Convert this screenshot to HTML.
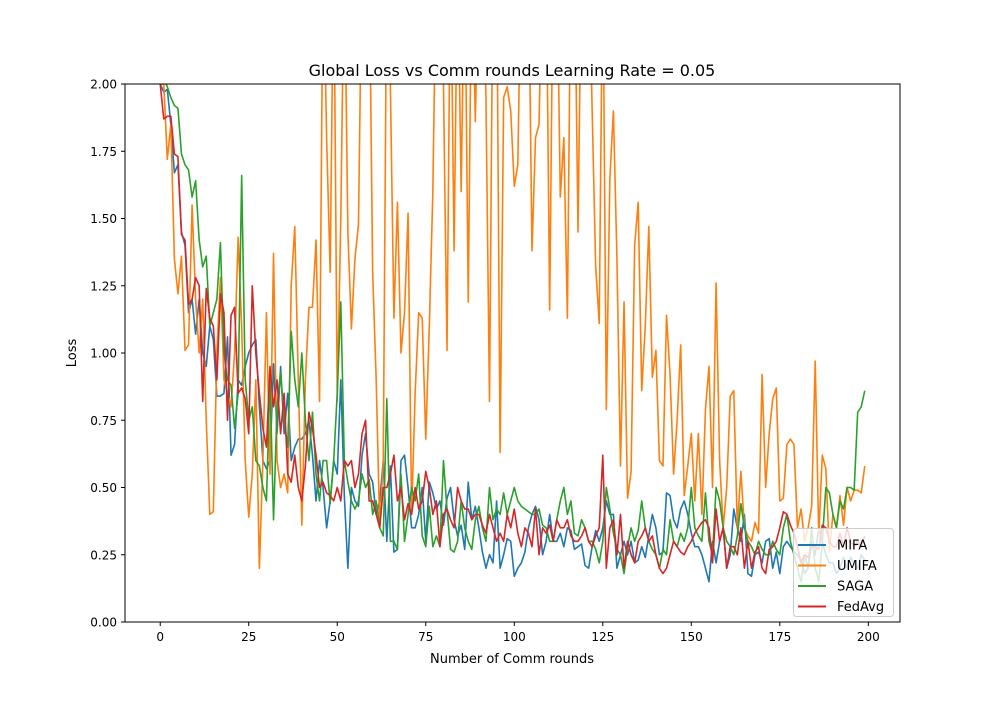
<!DOCTYPE html>
<html><head><meta charset="utf-8"><style>
body{margin:0;background:#fff;font-family:"Liberation Sans","DejaVu Sans",sans-serif}
svg text{font-family:"DejaVu Sans","Liberation Sans",sans-serif}
</style></head><body>
<svg id="chart" width="1000" height="700">
<rect width="1000" height="700" fill="#fff"/>
<defs><clipPath id="clip"><rect x="125" y="84" width="775" height="538"/></clipPath></defs>
<g id="grid"></g>
<g id="series" clip-path="url(#clip)"></g>
<rect x="125" y="84" width="775" height="538" fill="none" stroke="#000" stroke-width="1"/>
<g id="axes"></g>
<text x="512" y="76" text-anchor="middle" font-size="16">Global Loss vs Comm rounds Learning Rate = 0.05</text>
<text x="512" y="663" text-anchor="middle" font-size="13">Number of Comm rounds</text>
<text x="76" y="353" text-anchor="middle" font-size="13" transform="rotate(-90 76 353)">Loss</text>
<g id="legend"></g>
</svg>
<script>
const seriesNames=["MIFA","UMIFA","SAGA","FedAvg"];
const colors=["#1f77b4","#ff7f0e","#2ca02c","#d62728"];
const xTicks=[0,25,50,75,100,125,150,175,200];
const yTicks=[0,0.25,0.5,0.75,1.0,1.25,1.5,1.75,2.0];
const mifa=[2.0,1.97,1.98,1.85,1.67,1.7,1.45,1.4,1.15,1.2,1.07,1.2,1.0,0.95,1.1,1.05,0.84,0.84,0.85,1.06,0.62,0.66,0.9,0.88,0.95,1.0,1.03,1.05,0.8,0.6,0.57,0.6,0.96,0.7,0.95,0.7,0.85,0.6,0.65,0.68,0.68,0.7,0.75,0.62,0.45,0.6,0.5,0.35,0.45,0.6,0.55,0.9,0.47,0.2,0.5,0.45,0.43,0.62,0.7,0.55,0.52,0.4,0.45,0.6,0.3,0.58,0.26,0.27,0.6,0.62,0.5,0.35,0.35,0.4,0.5,0.3,0.52,0.48,0.42,0.45,0.36,0.46,0.5,0.38,0.32,0.36,0.27,0.52,0.38,0.43,0.35,0.26,0.2,0.25,0.22,0.45,0.2,0.25,0.31,0.3,0.17,0.2,0.22,0.26,0.35,0.4,0.43,0.38,0.25,0.3,0.4,0.3,0.3,0.33,0.28,0.35,0.34,0.27,0.28,0.29,0.21,0.2,0.28,0.34,0.3,0.35,0.45,0.4,0.4,0.2,0.25,0.3,0.25,0.3,0.22,0.23,0.28,0.24,0.32,0.4,0.35,0.25,0.26,0.48,0.47,0.38,0.35,0.42,0.45,0.4,0.33,0.28,0.28,0.25,0.2,0.15,0.3,0.22,0.3,0.35,0.2,0.25,0.42,0.35,0.3,0.4,0.18,0.17,0.25,0.26,0.22,0.3,0.31,0.2,0.26,0.18,0.28,0.3,0.28,0.26,0.25,0.23,0.18,0.2,0.3,0.25,0.35,0.3,0.25,0.22,0.22,0.18,0.2,0.24,0.2,0.24,0.22,0.2,0.25,0.23];
const umifa=[2.0,2.0,1.72,1.85,1.35,1.22,1.36,1.01,1.03,1.55,1.2,1.0,1.2,0.75,0.4,0.41,1.0,1.28,0.9,0.85,0.8,1.0,1.43,1.1,0.6,0.39,0.55,0.9,0.2,0.6,1.15,0.55,1.37,0.6,0.5,0.55,0.48,1.25,1.47,0.9,0.36,0.9,1.17,1.17,1.42,0.82,2.5,1.8,1.3,2.5,0.82,1.5,2.5,1.45,1.09,1.35,1.48,2.5,2.5,2.5,1.3,0.9,0.35,0.6,2.5,2.0,1.13,1.56,1.0,1.15,1.52,0.4,0.85,1.15,1.13,0.68,1.1,1.6,2.5,2.5,2.0,1.01,2.5,1.38,2.5,1.6,2.5,1.19,2.5,1.86,2.5,2.5,1.95,0.82,2.5,2.5,0.63,1.95,1.99,1.9,1.62,1.7,2.5,2.5,2.5,1.38,1.8,1.85,2.5,2.5,1.16,2.5,2.5,1.58,1.8,1.13,2.5,2.5,1.45,2.5,2.0,2.5,1.9,1.32,1.11,2.5,0.79,1.65,1.9,1.35,0.58,1.19,0.46,0.56,1.4,1.56,0.86,1.1,1.47,0.91,1.01,0.6,0.58,1.14,0.92,0.55,0.75,1.03,0.47,0.58,0.7,0.45,0.7,0.4,0.79,0.95,0.5,1.26,0.6,0.35,0.5,0.84,0.86,0.35,0.56,0.35,0.32,0.3,0.37,0.33,0.92,0.5,0.7,0.83,0.87,0.45,0.46,0.66,0.68,0.66,0.35,0.42,0.3,0.35,0.43,0.97,0.32,0.62,0.57,0.26,0.4,0.35,0.47,0.36,0.5,0.45,0.49,0.49,0.48,0.58];
const saga=[2.05,2.02,1.99,1.95,1.92,1.91,1.74,1.7,1.68,1.58,1.64,1.42,1.32,1.36,1.1,1.15,1.2,1.41,1.0,0.9,0.88,0.72,0.85,1.66,0.9,0.75,0.8,0.6,0.58,0.5,0.45,0.9,0.38,0.8,0.93,0.75,0.65,1.08,0.9,0.8,1.0,0.75,0.6,0.78,0.55,0.45,0.6,0.6,0.44,0.6,0.85,1.19,0.6,0.52,0.45,0.42,0.45,0.55,0.5,0.53,0.4,0.45,0.35,0.32,0.83,0.3,0.3,0.27,0.55,0.3,0.4,0.5,0.45,0.55,0.32,0.28,0.43,0.28,0.32,0.28,0.6,0.42,0.27,0.26,0.3,0.45,0.35,0.3,0.27,0.38,0.43,0.35,0.3,0.5,0.38,0.42,0.4,0.48,0.4,0.45,0.5,0.45,0.43,0.42,0.41,0.4,0.4,0.42,0.36,0.35,0.3,0.3,0.38,0.45,0.5,0.4,0.45,0.33,0.32,0.38,0.35,0.3,0.3,0.27,0.22,0.3,0.5,0.42,0.33,0.27,0.25,0.18,0.28,0.35,0.3,0.34,0.45,0.35,0.3,0.27,0.25,0.2,0.27,0.25,0.38,0.3,0.28,0.33,0.3,0.35,0.5,0.35,0.32,0.3,0.48,0.3,0.25,0.5,0.45,0.35,0.3,0.28,0.25,0.32,0.44,0.35,0.3,0.28,0.25,0.3,0.27,0.25,0.25,0.3,0.27,0.25,0.35,0.4,0.3,0.25,0.2,0.15,0.25,0.2,0.35,0.2,0.15,0.3,0.5,0.48,0.4,0.35,0.45,0.42,0.5,0.5,0.49,0.78,0.8,0.86];
const fedavg=[2.0,1.87,1.88,1.88,1.74,1.73,1.44,1.42,1.18,1.2,1.28,1.25,0.82,1.24,1.13,1.1,0.9,1.22,1.15,0.75,1.14,1.17,0.85,0.87,0.83,0.7,1.25,1.0,0.85,0.72,0.65,0.95,0.8,0.9,0.7,0.85,0.55,0.52,0.62,0.5,0.45,0.58,0.78,0.72,0.62,0.5,0.52,0.48,0.47,0.45,0.5,0.45,0.6,0.58,0.6,0.5,0.55,0.7,0.75,0.45,0.45,0.4,0.35,0.5,0.5,0.55,0.62,0.45,0.5,0.38,0.44,0.4,0.5,0.42,0.45,0.56,0.5,0.4,0.45,0.28,0.4,0.42,0.38,0.35,0.5,0.45,0.42,0.42,0.38,0.4,0.4,0.36,0.33,0.4,0.35,0.3,0.33,0.3,0.4,0.35,0.42,0.33,0.28,0.35,0.33,0.28,0.42,0.25,0.35,0.33,0.36,0.3,0.38,0.35,0.35,0.38,0.32,0.3,0.3,0.32,0.35,0.3,0.28,0.32,0.35,0.62,0.2,0.35,0.38,0.25,0.4,0.2,0.3,0.25,0.22,0.3,0.32,0.35,0.3,0.32,0.25,0.2,0.18,0.2,0.25,0.3,0.28,0.26,0.25,0.28,0.3,0.33,0.35,0.37,0.38,0.35,0.22,0.42,0.3,0.35,0.2,0.28,0.28,0.25,0.35,0.2,0.3,0.2,0.26,0.28,0.2,0.18,0.27,0.28,0.3,0.35,0.41,0.4,0.36,0.33,0.28,0.22,0.25,0.24,0.28,0.28,0.27,0.36,0.35,0.3,0.28,0.28,0.33,0.28,0.35,0.3,0.28,0.3,0.28,0.32];
const allSeries=[mifa,umifa,saga,fedavg];
const NS="http://www.w3.org/2000/svg";
const X0=125,X1=900,Y0=622,Y1=84,XMIN=-9.95,XMAX=208.95,YMIN=0,YMAX=2;
function sx(v){return X0+(v-XMIN)/(XMAX-XMIN)*(X1-X0);}
function sy(v){return Y0-(v-YMIN)/(YMAX-YMIN)*(Y0-Y1);}
function mk(tag,attrs,parent){const e=document.createElementNS(NS,tag);for(const k in attrs)e.setAttribute(k,attrs[k]);parent.appendChild(e);return e;}
const axes=document.getElementById('axes');
xTicks.forEach(t=>{
  const l=mk('line',{x1:sx(t),x2:sx(t),y1:622,y2:626,stroke:'#000'},axes);
  
  
  const tx=mk('text',{x:sx(t),y:641,'text-anchor':'middle','font-size':'12'},axes);
  tx.textContent=t;
  
  
});
yTicks.forEach(t=>{
  const l=mk('line',{x1:121,x2:125,y1:sy(t),y2:sy(t),stroke:'#000'},axes);
  
  
  const tx=mk('text',{x:117,y:sy(t)+4.5,'text-anchor':'end','font-size':'12'},axes);
  tx.textContent=t.toFixed(2);
  
  
});
const sg=document.getElementById('series');
allSeries.forEach((d,i)=>{
  const pts=d.map((v,j)=>sx(j).toFixed(2)+','+sy(v).toFixed(2)).join(' ');
  const p=mk('polyline',{points:pts,fill:'none',stroke:colors[i],'stroke-width':'1.6','stroke-linejoin':'round'},sg);
  
  
});
const lg=document.getElementById('legend');
const box=mk('rect',{x:793.5,y:528.5,width:100,height:88,rx:3,fill:'#fff','fill-opacity':'0.8',stroke:'#ccc'},lg);


seriesNames.forEach((n,i)=>{
  const y=545+i*20.5;
  const l=mk('line',{x1:798,x2:826,y1:y,y2:y,stroke:colors[i],'stroke-width':'2'},lg);
  
  
  const t=mk('text',{x:837,y:y+4.5,'font-size':'13'},lg);
  t.textContent=n;
  
  
});
</script>
</body></html>
